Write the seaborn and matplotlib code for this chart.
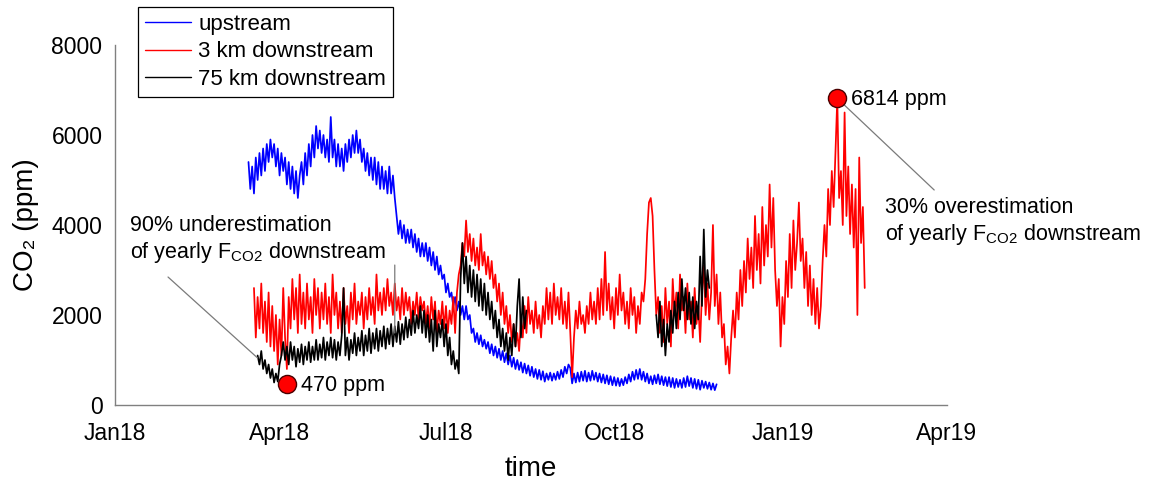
import numpy as np
import pandas as pd
import matplotlib
matplotlib.use("Agg")
import matplotlib.pyplot as plt
import seaborn as sns

# ---------------- data (ppm, daily values) ----------------
upstream_start = "2018-03-15"
upstream = [
    5400, 4800, 5300, 4700, 5500, 5000, 5600,
    5100, 5700, 5200, 5800, 5400, 5900, 5500,
    5800, 5300, 5700, 5100, 5600, 5200,
    5500, 4900, 5400, 4800, 5300, 4700, 5200, 4600, 5100,
    5400, 4900, 5600, 5100, 5800, 5300, 6000, 5500, 6200, 5700,
    6100, 5600, 6000, 5500, 5900, 5400, 6400, 5500, 5900, 5300,
    5800, 5300, 5700, 5200, 5800, 5400, 5900, 5500, 6000, 5600, 6100, 5600,
    5900, 5400, 5700, 5200, 5600, 5100, 5500, 5000, 5500, 4900, 5400, 4800, 5300, 4800, 5200, 4700, 5300, 4700, 5100, 4600,
    4200, 3800, 4100, 3700, 4000, 3600, 3900, 3600,
    3900, 3500, 3800, 3400, 3700, 3300, 3600, 3300, 3600, 3200, 3500, 3100, 3400, 3000, 3300, 2900,
    3100, 2800, 2900, 2500, 2700, 2400, 2500, 2200, 2400, 2100, 2300, 2000, 2200, 1900, 2200, 1900, 2000, 1600,
    1700, 1400, 1600, 1350, 1550, 1300, 1450, 1250, 1400, 1150, 1350, 1100, 1300, 1050,
    1250, 1000, 1200, 950, 1150, 900, 1100, 850, 1050, 800, 1000, 780, 950, 720, 920, 700, 880, 650, 850, 620, 800, 580, 780, 560, 750, 520, 700,
    560, 720, 540, 700, 560, 740, 580, 780, 620, 850, 700, 900, 820,
    480, 700, 500, 720, 520, 740, 540, 760, 520, 720, 540, 760, 560, 720,
    520, 700, 500, 680, 480, 660, 460, 640, 440, 620, 430, 600, 420, 580, 440,
    620, 480, 680, 520, 740, 560, 780, 580, 800, 560, 740, 520, 700, 480, 640,
    460, 660, 480, 680, 460, 640, 440, 620, 420, 620, 400, 600, 380, 580, 400, 560,
    380, 600, 400, 640, 420, 600, 380, 580, 360, 560, 340, 540, 380, 520, 360, 500, 340, 480, 330, 460,
]

down3_start = "2018-03-18"
down3 = [
    2600, 1500, 2400, 1700, 2700, 1600, 2300, 1400, 2500, 1300, 2200, 1200, 2000, 900,
    1900, 1100, 2600, 1500, 800, 2400, 1700, 2800, 1900, 2600, 1600,
    2900, 1800, 2500, 1700, 2700, 1900, 2400, 1600, 2800, 2000, 2600, 1700, 2500, 1900, 2700,
    1800, 2400, 1600, 2900, 2000, 2500, 1700, 2300, 1600, 2600, 1800, 2200, 1600, 2500, 1900,
    2700, 1800, 2300, 2000, 2500, 1700, 2400, 1900, 2600, 2000, 2400, 1800, 2900, 2100, 2500, 2000, 2600, 2100, 2800, 2200,
    2500, 2000, 2700, 2100, 2400, 1900, 2600, 2000, 2500, 2100, 2400, 1800, 2300, 2000, 2500, 1900, 2400, 2100, 2300, 1800, 2200, 1700, 2400, 1900, 2300, 1600, 2100, 1800,
    2300, 1700, 2200, 1600, 2100, 1800, 2400, 1600, 2500, 2900,
    3100, 3600, 3300, 4100, 3400, 3800, 3200, 3700, 3100, 3500, 3000, 3800, 3100, 3400, 2900, 3300, 2800,
    3200, 2600, 2900, 2300, 2700, 2000, 2500, 1800, 2200, 1600, 2000, 1400, 1800, 1300, 1600, 1200,
    1900, 1500, 2200, 1600, 2400, 1800, 2100, 1600, 2300, 1700, 2000, 1500, 2200, 1800, 2600, 1900, 2500, 1800, 2700, 2000, 2400, 1900, 2600, 1800, 2300, 1700, 2500, 1600,
    620,
    1500, 2100, 1700, 2300, 1800, 2000, 1600, 2200, 1800, 2500, 1900, 2300, 1800,
    2600, 1900, 2800, 2000, 3400, 2100, 2700, 1900, 2400, 1700, 2600, 2000, 2900,
    2100, 2500, 1800, 2300, 1700, 2600, 2000, 2400, 1600, 2200, 1800, 2500, 2300, 2800,
    3800, 4500, 4600, 4200, 3000, 2000,
    2400, 1600, 2200, 1400, 2600, 1800, 2300, 1300, 2800, 2000, 2500, 1700, 2900, 2100, 2400, 1600, 2700, 1900, 2300, 1500, 2600, 1800, 2200, 1400, 2500, 3100, 2000, 2700, 1900, 2500,
    4000, 2200, 2900, 1800, 2500, 1500, 1800, 900, 1300, 700, 1500,
    2100, 1500, 2500, 1900, 3000, 2200, 3200, 2500, 3700, 2800,
    3500, 2600, 4200, 3000, 3800, 2700, 4400, 3100, 4000, 3300, 4900, 3500, 4600,
    3000, 2200, 2800, 1300, 2400, 1800,
    3200, 2400, 3800, 2600, 4100, 3000, 3600, 4500, 3200,
    3700, 2600, 3400, 2200, 3100, 2000, 2800, 1800, 2600, 1700, 2200,
    3200, 4000, 3300, 4800, 4000, 5200, 4400, 5600, 6814,
    4600, 5200, 4000, 6500, 4200, 5300, 3800, 4900, 3500, 4800, 2000, 5500, 3600, 4400, 2600,
]

down75_a_start = "2018-03-20"
down75_a = [
    1100, 900, 1200, 800, 1000, 700, 900, 600, 800, 500, 700, 520, 900, 1100, 1400,
    1000, 1300, 900, 1400, 1000, 1300, 850, 1250, 950, 1350, 900, 1300, 1000, 1400, 950, 1300, 1000, 1450,
    1000, 1350, 1050, 1500, 1000, 1400, 1100, 1500, 1050, 1450, 1000, 1400, 1100, 1550, 2600, 1100, 1500, 1000, 1450, 1150,
    1600, 1100, 1500, 1200, 1650, 1100, 1550, 1200, 1700, 1150, 1600, 1250, 1700, 1200, 1650, 1300, 1750, 1250, 1700, 1350,
    1800, 1300, 1750, 1400, 1850, 1350, 1800, 1450, 1950, 1500, 1900, 1550, 2100, 1600, 2000,
    1700, 2200, 1600, 2100, 1500, 2000, 1400, 1900, 1200, 2100, 1300, 1800, 1500,
    1900, 1300, 1800, 1100, 1500, 900, 1200, 800, 1000, 700,
    2800, 3600, 2700, 3300, 2500, 3100, 2400, 3000, 2300, 2900, 2200, 2800, 2100, 2700, 2000, 2500, 1900,
    2300, 1700, 2100, 1500, 1900, 1300, 1700, 1200, 1600, 1000, 1500, 1100, 1800, 1300, 2200, 2800, 1500, 2400, 1700, 2100,
]

down75_b_start = "2018-10-24"
down75_b = [
    2000, 1500, 2300, 1300, 1900, 1100, 1800, 1400, 2100, 1600, 2300, 1700, 2500, 1900, 2800,
    2100, 2600, 1900, 2500, 1800, 2400, 1700, 2300, 1900, 3300, 2200, 3900, 2400, 3000, 2600,
]

series_labels = ["upstream", "3 km downstream", "75 km downstream"]
marker_dates = ["2018-04-05", "2019-01-31"]
marker_values = [470, 6814]
marker_labels = ["470 ppm", "6814 ppm"]

tick_dates = ["2018-01-01", "2018-04-01", "2018-07-01", "2018-10-01", "2019-01-01", "2019-04-01"]
tick_labels = ["Jan18", "Apr18", "Jul18", "Oct18", "Jan19", "Apr19"]
y_ticks = [0, 2000, 4000, 6000, 8000]

# ---------------- style ----------------
sns.set_style("white")
plt.rcParams["font.family"] = ["Liberation Sans", "DejaVu Sans"]
plt.rcParams["mathtext.fontset"] = "custom"
plt.rcParams["mathtext.rm"] = "Liberation Sans"
plt.rcParams["mathtext.it"] = "Liberation Sans:italic"
plt.rcParams["text.color"] = "black"
plt.rcParams["axes.labelcolor"] = "black"


def series(start, vals):
    return pd.DataFrame({"time": pd.date_range(start, periods=len(vals), freq="D"),
                         "co2": vals})


fig = plt.figure(figsize=(11.59, 4.84), dpi=100)
ax = fig.add_axes([115 / 1159, 79 / 484, 832 / 1159, 360 / 484])

lw = 1.25
sns.lineplot(data=series(upstream_start, upstream), x="time", y="co2", color="#0000ff",
             lw=lw, ax=ax, label=series_labels[0], estimator=None, sort=False)
sns.lineplot(data=series(down3_start, down3), x="time", y="co2", color="#ff0000",
             lw=lw, ax=ax, label=series_labels[1], estimator=None, sort=False)
sns.lineplot(data=series(down75_a_start, down75_a), x="time", y="co2", color="black",
             lw=lw, ax=ax, label=series_labels[2], estimator=None, sort=False)
sns.lineplot(data=series(down75_b_start, down75_b), x="time", y="co2", color="black",
             lw=lw, ax=ax, legend=False, estimator=None, sort=False)

# annotation connector lines
grey = "#7a7a7a"
ax.annotate("", xy=(pd.Timestamp("2018-03-20"), 1044), xytext=(pd.Timestamp("2018-01-30"), 2844),
            arrowprops=dict(arrowstyle="-", color=grey, lw=0.9, shrinkA=0, shrinkB=0))
ax.annotate("", xy=(pd.Timestamp("2018-06-03"), 1600), xytext=(pd.Timestamp("2018-06-03"), 3110),
            arrowprops=dict(arrowstyle="-", color=grey, lw=0.9, shrinkA=0, shrinkB=0))
ax.annotate("", xy=(pd.Timestamp("2019-03-25"), 4778), xytext=(pd.Timestamp(marker_dates[1]), marker_values[1]),
            arrowprops=dict(arrowstyle="-", color=grey, lw=0.9, shrinkA=0, shrinkB=0))

# markers
mk = pd.DataFrame({"time": pd.to_datetime(marker_dates), "co2": marker_values})
sns.scatterplot(data=mk, x="time", y="co2", s=170, color="#ff0000", edgecolor="#4a0000",
                linewidth=1.0, ax=ax, zorder=5, legend=False)
for d, v, t in zip(marker_dates, marker_values, marker_labels):
    ax.annotate(t, xy=(pd.Timestamp(d), v), xytext=(10, -1), textcoords="offset points",
                ha="left", va="center", fontsize=15.5, color="black")

# text annotations
tfs = 15.5
ax.text(pd.Timestamp("2018-01-09"), 3978, "90% underestimation", fontsize=tfs, ha="left", va="center")
ax.text(pd.Timestamp("2018-01-09"), 3378, r"of yearly F$_{\mathregular{CO2}}$ downstream", fontsize=tfs,
        ha="left", va="center")
ax.text(pd.Timestamp("2019-02-26"), 4378, "30% overestimation", fontsize=tfs, ha="left", va="center",
        clip_on=False)
ax.text(pd.Timestamp("2019-02-26"), 3778, r"of yearly F$_{\mathregular{CO2}}$ downstream", fontsize=tfs,
        ha="left", va="center", clip_on=False)

# axes
ax.set_xlim(pd.Timestamp(tick_dates[0]), pd.Timestamp(tick_dates[-1]))
ax.set_ylim(0, 8000)
ax.set_xticks(pd.to_datetime(tick_dates))
ax.set_xticklabels(tick_labels)
ax.set_yticks(y_ticks)
ax.set_yticklabels([str(v) for v in y_ticks])
ax.set_xlabel("time", fontsize=20, labelpad=8)
ax.set_ylabel("CO\u2082 (ppm)", fontsize=20, labelpad=9)

for s in ["top", "right"]:
    ax.spines[s].set_visible(False)
for s in ["left", "bottom"]:
    ax.spines[s].set_color("#808080")
    ax.spines[s].set_linewidth(1.0)
ax.tick_params(axis="both", direction="in", length=6, width=0.9, color="#808080",
               labelsize=16.5, labelcolor="black")
ax.tick_params(axis="x", pad=12)
ax.tick_params(axis="y", pad=9)

leg = ax.legend(loc="upper left", bbox_to_anchor=(138 / 1159, 1 - 7 / 484),
                bbox_transform=fig.transFigure, frameon=True, fancybox=False,
                edgecolor="black", framealpha=1, borderaxespad=0, fontsize=16,
                handlelength=2.1, handletextpad=0.3, labelspacing=0.3, borderpad=0.3)
leg.get_frame().set_linewidth(0.9)
for t in leg.get_texts():
    t.set_color("black")
for h in leg.get_lines():
    h.set_linewidth(1.0)

fig.savefig("out.png", dpi=100)
